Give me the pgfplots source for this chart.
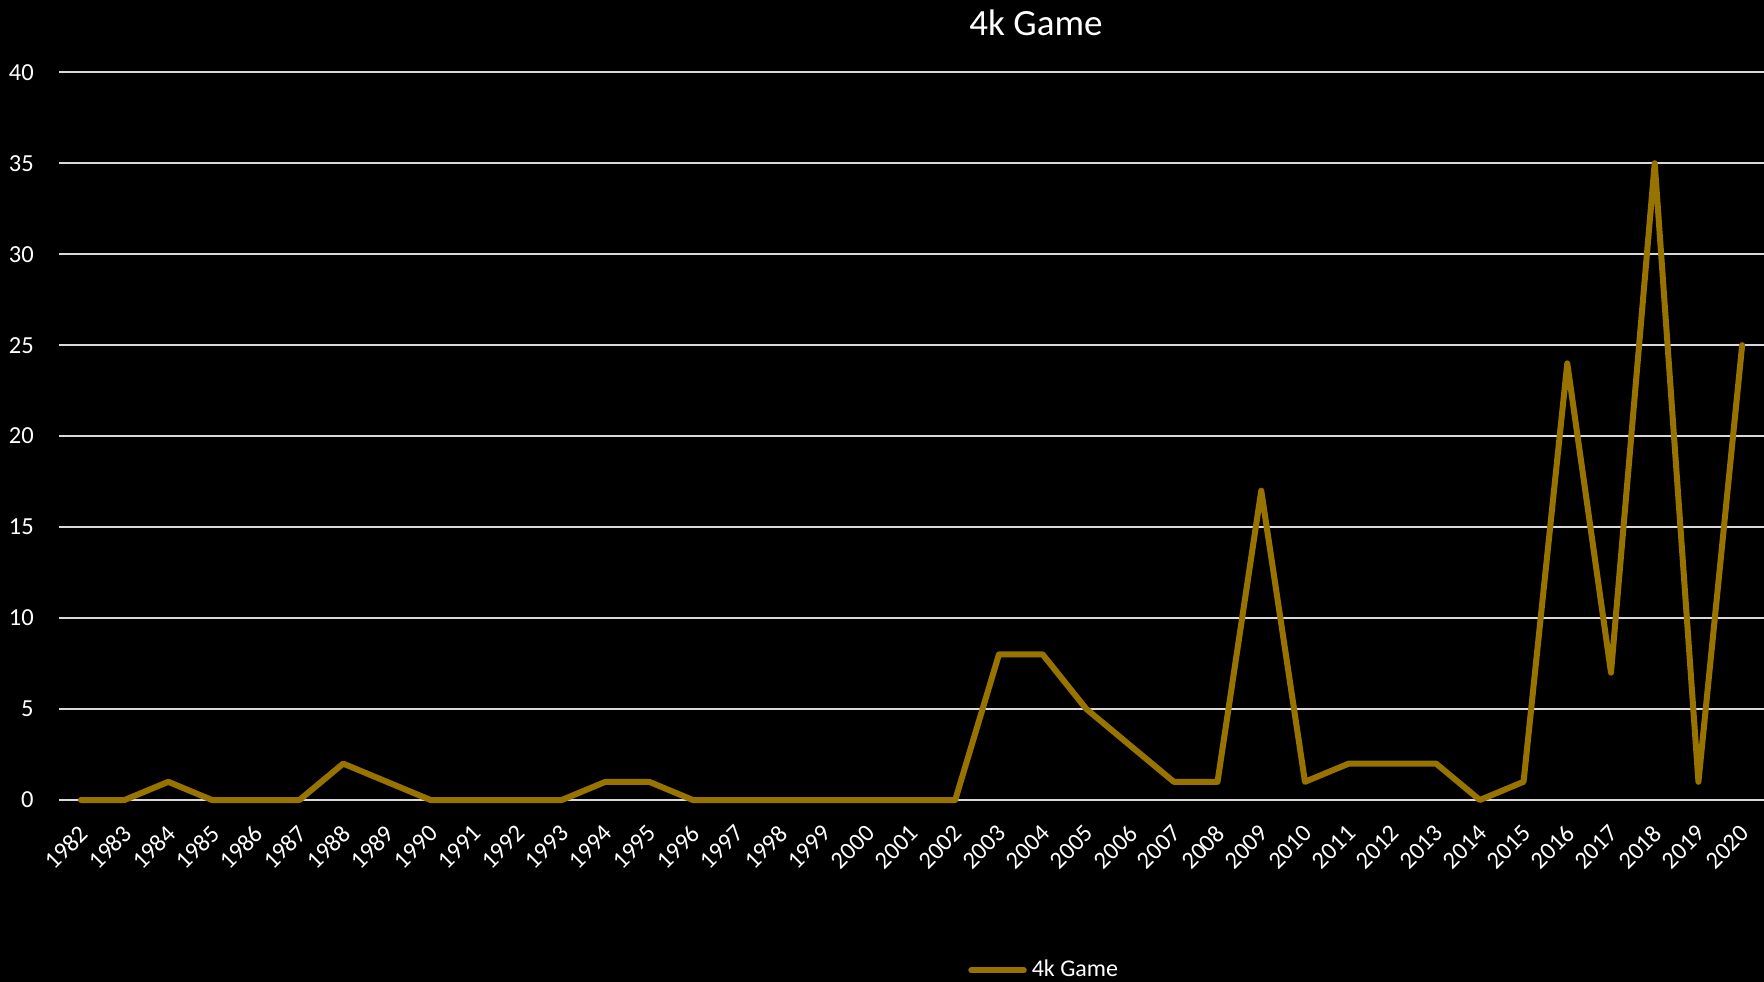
\documentclass[border=0pt]{standalone}
\usepackage{fontspec}
\setmainfont{Carlito}
\usepackage{pgfplots}
\pgfplotsset{compat=1.18}
\definecolor{gold}{HTML}{997300}
\definecolor{gridc}{HTML}{D9D9D9}

\begin{document}
\begin{tikzpicture}
    \fill[black, use as bounding box] (-23.6pt,-72.8pt) rectangle (682pt,320pt);
    \begin{axis}[
        scale only axis,
        width=682pt,
        height=291.1pt,
        xmin=-0.5, xmax=38.5,
        ymin=0, ymax=40,
        clip=false,
        xtick={0,...,38},
        xticklabels={1982,1983,1984,1985,1986,1987,1988,1989,1990,1991,1992,1993,1994,1995,1996,1997,1998,1999,2000,2001,2002,2003,2004,2005,2006,2007,2008,2009,2010,2011,2012,2013,2014,2015,2016,2017,2018,2019,2020},
        ytick={0,5,...,40},
        xmajorgrids=false,
        ymajorgrids=true,
        grid style={draw=gridc, line width=0.8pt},
        axis line style={draw=none},
        major tick length=0pt,
        tick label style={font=\fontsize{9.8}{11}\selectfont, text=white},
        /pgf/number format/assume math mode=true,
        xticklabel style={anchor=north east, inner sep=0pt, xshift=-1.2pt, yshift=-9.2pt, rotate=45},
        yticklabel style={xshift=-6.6pt},
        title={4k Game},
        title style={font=\fontsize{14.8}{17}\selectfont, text=white, at={(rel axis cs:0.573,1)}, anchor=base, yshift=8.8pt},
        legend style={at={(rel axis cs:0.533,-0.234)}, anchor=west, draw=none, fill=none, inner sep=0pt, text=white, font=\fontsize{9.6}{11}\selectfont, /tikz/every even column/.append style={column sep=1pt}},
        legend image code/.code={\draw[#1, line cap=round] (0pt,0pt) -- (21pt,0pt);},
        ]
        \addplot[color=gold, line width=2.4pt, line join=round, line cap=round] coordinates {
            (0,0)(1,0)(2,1)(3,0)(4,0)(5,0)(6,2)(7,1)(8,0)(9,0)
            (10,0)(11,0)(12,1)(13,1)(14,0)(15,0)(16,0)(17,0)(18,0)(19,0)
            (20,0)(21,8)(22,8)(23,5)(24,3)(25,1)(26,1)(27,17)(28,1)(29,2)
            (30,2)(31,2)(32,0)(33,1)(34,24)(35,7)(36,35)(37,1)(38,25)
        };
        \legend{4k Game}
    \end{axis}
\end{tikzpicture}
\end{document}
